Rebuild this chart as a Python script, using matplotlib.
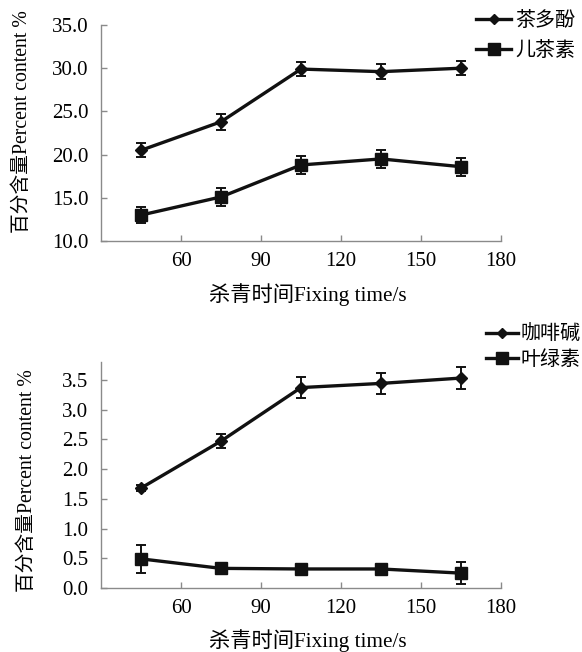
import matplotlib
matplotlib.use("Agg")
import matplotlib.pyplot as plt
from matplotlib.ticker import FixedLocator, FormatStrFormatter
from matplotlib.lines import Line2D

plt.rcParams['font.family'] = ['Liberation Serif', 'Noto Sans CJK SC']

# ---------------- data ----------------
times = [45, 75, 105, 135, 165]

tea_polyphenol = [20.5, 23.8, 29.9, 29.6, 30.0]
tea_polyphenol_err = [0.8, 0.9, 0.8, 0.85, 0.8]
catechin = [13.0, 15.1, 18.8, 19.5, 18.6]
catechin_err = [0.95, 1.0, 1.0, 1.05, 1.05]

caffeine = [1.68, 2.47, 3.37, 3.44, 3.53]
caffeine_err = [0.05, 0.12, 0.17, 0.18, 0.18]
chlorophyll = [0.49, 0.33, 0.32, 0.32, 0.25]
chlorophyll_err = [0.24, 0.04, 0.04, 0.04, 0.18]

top_labels = ['茶多酚', '儿茶素']
bottom_labels = ['咖啡碱', '叶绿素']
x_ticks = [60, 90, 120, 150, 180]
top_yticks = [10.0, 15.0, 20.0, 25.0, 30.0, 35.0]
bottom_yticks = [0.0, 0.5, 1.0, 1.5, 2.0, 2.5, 3.0, 3.5]

xlabel = '杀青时间Fixing time/s'
ylabel = '百分含量Percent content %'

# ---------------- style ----------------
W, H = 582, 652
fig = plt.figure(figsize=(W / 100, H / 100), dpi=100)
LINE = '#111111'
AX = '#8a8a8a'
FS_TICK = 15
FS_XLAB = 15.3
FS_YLAB = 14.2
FS_LEG = 14.4


def frac_axes(l, t, r, b):
    return fig.add_axes([l / W, 1 - b / H, (r - l) / W, (b - t) / H])


def style(ax, ylim, yticks, fmt):
    ax.set_xlim(30, 180)
    ax.set_ylim(*ylim)
    ax.xaxis.set_major_locator(FixedLocator(x_ticks))
    ax.yaxis.set_major_locator(FixedLocator(yticks))
    ax.yaxis.set_major_formatter(FormatStrFormatter(fmt))
    for s in ['top', 'right']:
        ax.spines[s].set_visible(False)
    for s in ['left', 'bottom']:
        ax.spines[s].set_color(AX)
        ax.spines[s].set_linewidth(1.0)
    ax.tick_params(direction='in', length=4, width=1.0, color=AX,
                   labelsize=FS_TICK, labelcolor='black')
    ax.tick_params(axis='y', pad=9)
    ax.tick_params(axis='x', pad=8)


def series(ax, y, err, marker, ms, label):
    ax.errorbar(times, y, yerr=err, color=LINE, lw=2.4, marker=marker,
                ms=ms, mfc=LINE, mec=LINE, ecolor=LINE, elinewidth=1.4,
                capsize=3.3, capthick=1.4, label=label, clip_on=False)


def handles():
    return [Line2D([], [], color=LINE, lw=2.4, marker='D', ms=5.5,
                   mfc=LINE, mec=LINE),
            Line2D([], [], color=LINE, lw=2.4, marker='s', ms=8.0,
                   mfc=LINE, mec=LINE)]


def ftext(x, y, s, fs, **kw):
    fig.text(x / W, 1 - y / H, s, ha='center', va='center',
             fontsize=fs, **kw)


# top panel
ax1 = frac_axes(101, 25, 501, 241)
series(ax1, tea_polyphenol, tea_polyphenol_err, 'D', 6.0, top_labels[0])
series(ax1, catechin, catechin_err, 's', 8.6, top_labels[1])
style(ax1, (10, 35), top_yticks, '%.1f')
ftext(308, 295, xlabel, FS_XLAB)
ftext(23, 122, ylabel, FS_YLAB, rotation=90)
fig.legend(handles(), top_labels, loc='upper left',
           bbox_to_anchor=(476 / W, 1 - 12 / H), frameon=False,
           fontsize=FS_LEG, handlelength=1.75, handletextpad=0.2,
           labelspacing=0.55, borderpad=0, borderaxespad=0)

# bottom panel
ax2 = frac_axes(101, 362, 501, 588)
series(ax2, caffeine, caffeine_err, 'D', 6.0, bottom_labels[0])
series(ax2, chlorophyll, chlorophyll_err, 's', 8.6, bottom_labels[1])
style(ax2, (0, 3.8), bottom_yticks, '%.1f')
ftext(308, 641, xlabel, FS_XLAB)
ftext(28, 481, ylabel, FS_YLAB, rotation=90)
fig.legend(handles(), bottom_labels, loc='upper left',
           bbox_to_anchor=(486 / W, 1 - 326 / H), frameon=False,
           fontsize=FS_LEG, handlelength=1.6, handletextpad=0.15,
           labelspacing=0.3, borderpad=0, borderaxespad=0)

fig.savefig('out.png', dpi=100)
